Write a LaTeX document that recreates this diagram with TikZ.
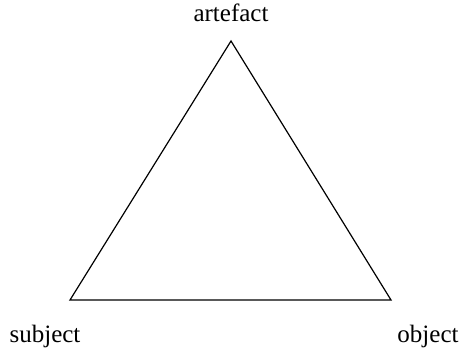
\documentclass[tikz,border=0pt]{standalone}
\usepackage{fontspec}
\setmainfont{Liberation Serif}
\usetikzlibrary{positioning}
\tikzset{
  every picture/.style={line width=0.6pt},
  corner/.style={font=\fontsize{12.5}{14}\selectfont, anchor=base, inner sep=0pt},
}
\begin{document}
\begin{tikzpicture}[x=0.5pt, y=-0.5pt]
  \useasboundingbox (0,0) rectangle (460,351);
  % triangle corners
  \coordinate (artefact) at (231,41);
  \coordinate (subject) at (70,300);
  \coordinate (object) at (391,300);
  \draw[line join=miter] (subject) -- (object) -- (artefact) -- cycle;
  % labels
  \node[corner] (lartefact) at (231,22) {artefact};
  \node[corner] (lsubject) at (45,343) {subject};
  \node[corner] (lobject) at (428,343) {object};
\end{tikzpicture}
\end{document}
